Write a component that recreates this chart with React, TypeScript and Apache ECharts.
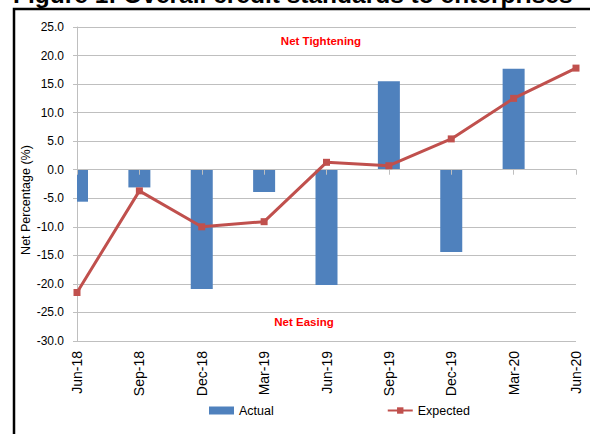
import React, { useEffect, useRef } from "react";
import * as echarts from "echarts";

const categories = ["Jun-18", "Sep-18", "Dec-18", "Mar-19", "Jun-19", "Sep-19", "Dec-19", "Mar-20", "Jun-20"];
const actualValues: (number | null)[] = [-5.6, -3.1, -20.9, -3.9, -20.2, 15.5, -14.4, 17.7, null];
const expectedValues = [-21.5, -3.7, -10.0, -9.1, 1.3, 0.7, 5.4, 12.5, 17.8];
const yMin = -30;
const yMax = 25;
const yStep = 5;
const titleText = "Figure 1: Overall credit standards to enterprises";
const yAxisName = "Net Percentage (%)";
const noteTop = "Net Tightening";
const noteBottom = "Net Easing";
const seriesNames = ["Actual", "Expected"];

const SANS = "'Liberation Sans', Arial, sans-serif";
const GRID_GRAY = "#BFBFBF";
const BAR_BLUE = "#4F81BD";
const LINE_RED = "#C0504D";
const BAR_WIDTH = 22;

export default function App() {
  const ref = useRef<HTMLDivElement>(null);

  useEffect(() => {
    document.body.style.margin = "0";
    if (!ref.current) return;
    const chart = echarts.init(ref.current, undefined, { renderer: "svg" });

    const barData = categories.map((c, i) => [i, actualValues[i] == null ? "-" : actualValues[i]]);

    chart.setOption({
      animation: false,
      backgroundColor: "#ffffff",
      grid: { left: 77, right: 14, top: 27, bottom: 93, containLabel: false },
      legend: {
        left: 204,
        top: 399,
        itemWidth: 25,
        itemHeight: 8,
        itemGap: 113,
        textStyle: { fontFamily: SANS, fontSize: 12.5, color: "#000" },
        data: [
          { name: seriesNames[0], icon: "rect", itemStyle: { color: BAR_BLUE } },
          { name: seriesNames[1] },
        ],
      },
      xAxis: [
        {
          type: "category",
          data: categories,
          boundaryGap: false,
          position: "bottom",
          axisLine: { show: false, onZero: false },
          axisTick: { show: false },
          axisLabel: {
            rotate: 90,
            margin: 10,
            fontFamily: SANS,
            fontSize: 14,
            color: "#000",
            interval: 0,
          },
          splitLine: { show: false },
        },
        {
          type: "category",
          data: categories,
          boundaryGap: false,
          position: "bottom",
          z: 3,
          axisLine: { show: true, onZero: true, lineStyle: { color: GRID_GRAY, width: 1 } },
          axisTick: { show: true, length: 5, inside: false, lineStyle: { color: GRID_GRAY } },
          axisLabel: { show: false },
          splitLine: { show: false },
        },
      ],
      yAxis: {
        type: "value",
        min: yMin,
        max: yMax,
        interval: yStep,
        axisLine: { show: true, lineStyle: { color: GRID_GRAY, width: 1 } },
        axisTick: { show: true, length: 4, lineStyle: { color: GRID_GRAY } },
        axisLabel: {
          margin: 13,
          fontFamily: SANS,
          fontSize: 12,
          color: "#000",
          formatter: (v: number) => v.toFixed(1),
        },
        splitLine: { show: true, lineStyle: { color: GRID_GRAY, width: 1 } },
      },
      series: [
        {
          name: seriesNames[0],
          type: "custom",
          data: barData,
          encode: { x: 0, y: 1 },
          itemStyle: { color: BAR_BLUE },
          z: 2,
          renderItem: (params: any, api: any) => {
            const v = api.value(1);
            if (v == null || isNaN(v)) return null;
            const idx = api.value(0);
            const top = api.coord([idx, v]);
            const base = api.coord([idx, 0]);
            const cs = params.coordSys;
            const rect = echarts.graphic.clipRectByRect(
              {
                x: top[0] - BAR_WIDTH / 2,
                y: Math.min(top[1], base[1]),
                width: BAR_WIDTH,
                height: Math.abs(base[1] - top[1]),
              },
              { x: cs.x, y: cs.y, width: cs.width, height: cs.height }
            );
            if (!rect) return null;
            return { type: "rect", shape: rect, style: { fill: BAR_BLUE } };
          },
        },
        {
          name: seriesNames[1],
          type: "line",
          data: expectedValues,
          symbol: "rect",
          symbolSize: 7,
          lineStyle: { color: LINE_RED, width: 3 },
          itemStyle: { color: LINE_RED },
          z: 4,
        },
      ],
      graphic: [
        {
          type: "text",
          x: 13,
          y: -6,
          style: {
            text: titleText,
            fontFamily: SANS,
            fontWeight: "bold",
            fontSize: 24.5,
            fill: "#000",
            textAlign: "left",
            textVerticalAlign: "middle",
          },
        },
        {
          type: "rect",
          shape: { x: 14, y: 9, width: 620, height: 500 },
          style: { fill: "none", stroke: "#000", lineWidth: 2.5 },
          silent: true,
        },
        {
          type: "text",
          x: 321,
          y: 41,
          style: {
            text: noteTop,
            fontFamily: SANS,
            fontWeight: "bold",
            fontSize: 11.5,
            fill: "#FF0000",
            textAlign: "center",
            textVerticalAlign: "middle",
          },
        },
        {
          type: "text",
          x: 304,
          y: 322,
          style: {
            text: noteBottom,
            fontFamily: SANS,
            fontWeight: "bold",
            fontSize: 11.5,
            fill: "#FF0000",
            textAlign: "center",
            textVerticalAlign: "middle",
          },
        },
        {
          type: "text",
          x: 26,
          y: 200,
          rotation: Math.PI / 2,
          style: {
            text: yAxisName,
            fontFamily: SANS,
            fontSize: 12.5,
            fill: "#000",
            textAlign: "center",
            textVerticalAlign: "middle",
          },
        },
      ],
    });
    return () => chart.dispose();
  }, []);

  return (
    <div
      ref={ref}
      style={{ position: "absolute", left: 0, top: 0, width: 590, height: 434 }}
    />
  );
}
